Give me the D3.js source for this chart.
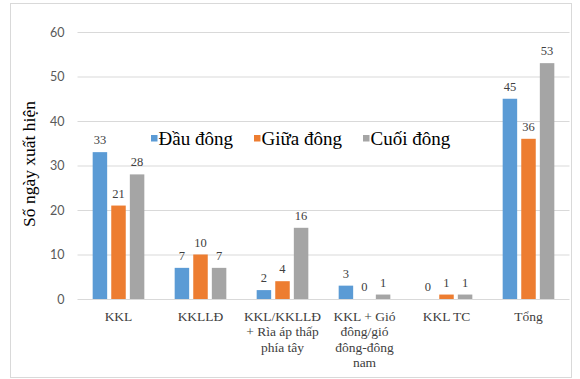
<!DOCTYPE html>
<html>
<head>
<meta charset="utf-8">
<script src="https://cdn.jsdelivr.net/npm/d3@7/dist/d3.min.js"></script>
<style>
  html, body { margin: 0; padding: 0; background: #fff; }
  svg { display: block; }
</style>
</head>
<body>
<svg id="chart" width="580" height="379"></svg>
<script>
// Weather pattern categories (multi-line labels)
const categories = [
  ["KKL"],
  ["KKLLĐ"],
  ["KKL/KKLLĐ", "+ Rìa áp thấp", "phía tây"],
  ["KKL + Gió", "đông/gió", "đông-đông", "nam"],
  ["KKL TC"],
  ["Tổng"]
];
const seriesNames = ["Đầu đông", "Giữa đông", "Cuối đông"];
const dauDong  = [33, 7, 2, 3, 0, 45];
const giuaDong = [21, 10, 4, 0, 1, 36];
const cuoiDong = [28, 7, 16, 1, 1, 53];
const yTicks = [0, 10, 20, 30, 40, 50, 60];
const colors = ["#5B9BD5", "#ED7D31", "#A5A5A5"];

const series = [dauDong, giuaDong, cuoiDong];
const svg = d3.select("#chart");

// outer frame
svg.append("rect")
  .attr("x", 10.5).attr("y", 3.5).attr("width", 561).attr("height", 374)
  .attr("fill", "#fff").attr("stroke", "#d9d9d9");

const plot = { left: 77.5, right: 569.5, top: 32, bottom: 299 };

const x0 = d3.scaleBand()
  .domain(d3.range(categories.length))
  .range([plot.left, plot.right])
  .paddingInner(0.37).paddingOuter(0.185);
const x1 = d3.scaleBand()
  .domain(d3.range(series.length))
  .range([0, x0.bandwidth()])
  .paddingInner(0.22);
const y = d3.scaleLinear().domain([0, 60]).range([plot.bottom, plot.top]);

// gridlines + tick labels
const yAxis = d3.axisLeft(y).tickValues(yTicks)
  .tickSize(-(plot.right - plot.left)).tickPadding(13);
const ga = svg.append("g")
  .attr("transform", `translate(${plot.left},0)`)
  .call(yAxis);
ga.select(".domain").remove();
ga.selectAll(".tick line").attr("stroke", "#d9d9d9").attr("stroke-width", 1);
ga.selectAll(".tick text")
  .attr("fill", "#595959")
  .style("font-family", "Lato, 'Open Sans', sans-serif")
  .style("font-size", "12.5px");

// bars
const groups = svg.append("g").selectAll("g")
  .data(categories.map((c, i) => i))
  .join("g")
  .attr("transform", i => `translate(${x0(i)},0)`);

groups.selectAll("rect")
  .data(i => series.map((s, k) => ({ k, v: s[i] })))
  .join("rect")
  .attr("x", d => x1(d.k))
  .attr("y", d => y(d.v))
  .attr("width", x1.bandwidth())
  .attr("height", d => y(0) - y(d.v))
  .attr("fill", d => colors[d.k]);

// value labels
groups.selectAll("text")
  .data(i => series.map((s, k) => ({ k, v: s[i] })))
  .join("text")
  .attr("x", d => x1(d.k) + x1.bandwidth() / 2)
  .attr("y", d => y(d.v) - 8)
  .attr("text-anchor", "middle")
  .attr("fill", "#404040")
  .style("font-family", "'Liberation Serif', 'Times New Roman', serif")
  .style("font-size", "12.5px")
  .text(d => d.v);

// category labels
const cat = svg.append("g").selectAll("text")
  .data(categories.map((lines, i) => ({ lines, i })))
  .join("text")
  .attr("text-anchor", "middle")
  .attr("fill", "#404040")
  .style("font-family", "'Liberation Serif', 'Times New Roman', serif")
  .style("font-size", "13.5px");
cat.each(function (d) {
  const t = d3.select(this);
  const cx = x0(d.i) + x0.bandwidth() / 2;
  d.lines.forEach((line, j) => {
    t.append("tspan").attr("x", cx).attr("y", 320.5 + j * 15.6).text(line);
  });
});

// y-axis title
svg.append("text")
  .attr("transform", "translate(35,164) rotate(-90)")
  .attr("text-anchor", "middle")
  .attr("fill", "#000")
  .style("font-family", "'Liberation Serif', 'Times New Roman', serif")
  .style("font-size", "17.5px")
  .text("Số ngày xuất hiện");

// legend
const legendX = [151, 254, 363];
const lg = svg.append("g").selectAll("g")
  .data(seriesNames.map((n, k) => ({ n, k })))
  .join("g")
  .attr("transform", d => `translate(${legendX[d.k]},139)`);
lg.append("rect")
  .attr("x", 0).attr("y", -4).attr("width", 6.5).attr("height", 6.5)
  .attr("fill", d => colors[d.k]);
lg.append("text")
  .attr("x", 7.5).attr("y", 6)
  .attr("fill", "#000")
  .style("font-family", "'Liberation Serif', 'Times New Roman', serif")
  .style("font-size", "19px")
  .text(d => d.n);
</script>
</body>
</html>
